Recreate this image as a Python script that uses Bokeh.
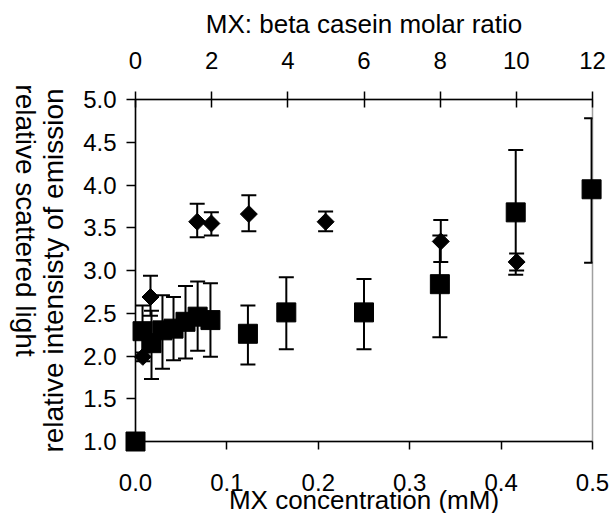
import math
from bokeh.plotting import figure
from bokeh.models import (ColumnDataSource, Whisker, TeeHead, LinearAxis, Range1d,
                          FixedTicker, PrintfTickFormatter)
from bokeh.core.properties import value
from bokeh.embed import file_html
from bokeh.resources import INLINE

# ---- data ----
# squares: relative scattered light
sq_x = [0.0, 0.0077, 0.0175, 0.0295, 0.0416, 0.0547, 0.068, 0.082, 0.123, 0.165, 0.250, 0.333, 0.416, 0.499]
sq_y = [1.00, 2.29, 2.15, 2.30, 2.32, 2.40, 2.46, 2.42, 2.26, 2.51, 2.51, 2.84, 3.68, 3.95]
sq_hi = [None, 2.59, 2.53, 2.71, 2.69, 2.82, 2.87, 2.85, 2.59, 2.92, 2.90, 3.41, 4.41, 4.78]
sq_lo = [None, 1.99, 1.73, 1.85, 1.95, 1.97, 2.06, 1.99, 1.90, 2.08, 2.08, 2.22, 2.95, 3.09]

# diamonds: relative intensity of emission
dm_x = [0.008, 0.0164, 0.0675, 0.083, 0.124, 0.208, 0.334, 0.417]
dm_y = [1.99, 2.69, 3.57, 3.55, 3.66, 3.57, 3.34, 3.10]
dm_hi = [2.04, 2.94, 3.78, 3.68, 3.88, 3.69, 3.59, 3.20]
dm_lo = [1.94, 2.47, 3.39, 3.41, 3.46, 3.46, 3.10, 3.00]

x_ticks = [0.0, 0.1, 0.2, 0.3, 0.4, 0.5]
y_ticks = [1.0, 1.5, 2.0, 2.5, 3.0, 3.5, 4.0, 4.5, 5.0]
top_ticks = [0, 2, 4, 6, 8, 10, 12]
X_MIN, X_MAX = 0.0, 0.5
Y_MIN, Y_MAX = 1.0, 5.0

FONT = "Liberation Sans"
TICK_SIZE = "24px"
TITLE_SIZE = "26px"
YTITLE_SIZE = "28px"

p = figure(width=612, height=528, x_range=Range1d(X_MIN, X_MAX), y_range=Range1d(Y_MIN, Y_MAX),
           output_backend="svg", toolbar_location=None,
           min_border_left=135, min_border_right=20, min_border_top=99, min_border_bottom=87)
p.extra_x_ranges = {"ratio": Range1d(0, 12)}
p.xgrid.visible = False
p.ygrid.visible = False
p.outline_line_color = "#a0a0a0"
p.outline_line_width = 1.5
p.background_fill_color = "white"
p.border_fill_color = "white"

def style_axis(ax):
    ax.axis_line_color = "black"
    ax.axis_line_width = 1.5
    ax.major_tick_line_color = "black"
    ax.major_tick_line_width = 1.5
    ax.minor_tick_line_color = None
    ax.major_label_text_font = FONT
    ax.major_label_text_font_size = TICK_SIZE
    ax.major_label_text_color = "black"
    ax.axis_label_text_font = FONT
    ax.axis_label_text_font_size = TITLE_SIZE
    ax.axis_label_text_font_style = "normal"
    ax.axis_label_text_color = "black"

xa = p.xaxis[0]
style_axis(xa)
xa.ticker = FixedTicker(ticks=x_ticks)
xa.formatter = PrintfTickFormatter(format="%.1f")
xa.major_tick_in = 0
xa.major_tick_out = 8
xa.major_label_standoff = 24
xa.axis_label = "MX concentration (mM)"
xa.axis_label_standoff = -9

ya = p.yaxis[0]
style_axis(ya)
ya.ticker = FixedTicker(ticks=y_ticks)
ya.formatter = PrintfTickFormatter(format="%.1f")
ya.major_tick_in = 0
ya.major_tick_out = 9
ya.major_label_standoff = 10
ya.axis_label = "relative intensisty of emission"
ya.axis_label_text_font_size = YTITLE_SIZE
ya.axis_label_standoff = 11

top = LinearAxis(x_range_name="ratio")
style_axis(top)
top.ticker = FixedTicker(ticks=top_ticks)
top.formatter = PrintfTickFormatter(format="%d")
top.major_tick_in = 8
top.major_tick_out = 8
top.major_label_standoff = 23
top.axis_label = "MX: beta casein molar ratio"
top.axis_label_standoff = 10
p.add_layout(top, "above")

# second y title, reading top to bottom (unclipped overlay text glyph)
p.text(x=[X_MIN], y=[(Y_MIN + Y_MAX) / 2], text=["relative scattered light"],
       angle=-math.pi / 2, x_offset=-110, y_offset=-50,
       text_align="center", text_baseline="middle",
       text_font=value(FONT), text_font_size=YTITLE_SIZE, text_color="black",
       level="overlay")

# error bars
sq_idx = [i for i in range(len(sq_x)) if sq_hi[i] is not None]
sq_err = ColumnDataSource(dict(x=[sq_x[i] for i in sq_idx],
                               hi=[sq_hi[i] for i in sq_idx],
                               lo=[sq_lo[i] for i in sq_idx]))
dm_err = ColumnDataSource(dict(x=dm_x, hi=dm_hi, lo=dm_lo))
for src in (sq_err, dm_err):
    w = Whisker(base="x", upper="hi", lower="lo", source=src, dimension="height",
                line_color="black", line_width=2, level="overlay",
                upper_head=TeeHead(size=15, line_color="black", line_width=2),
                lower_head=TeeHead(size=15, line_color="black", line_width=2))
    p.add_layout(w)

p.scatter(dm_x, dm_y, marker="square", angle=math.pi / 4, size=12,
          fill_color="black", line_color="black", level="overlay")
p.scatter(sq_x, sq_y, marker="square", size=19, fill_color="black", line_color="black",
          level="overlay")

open("out.html", "w").write(file_html(p, INLINE))
